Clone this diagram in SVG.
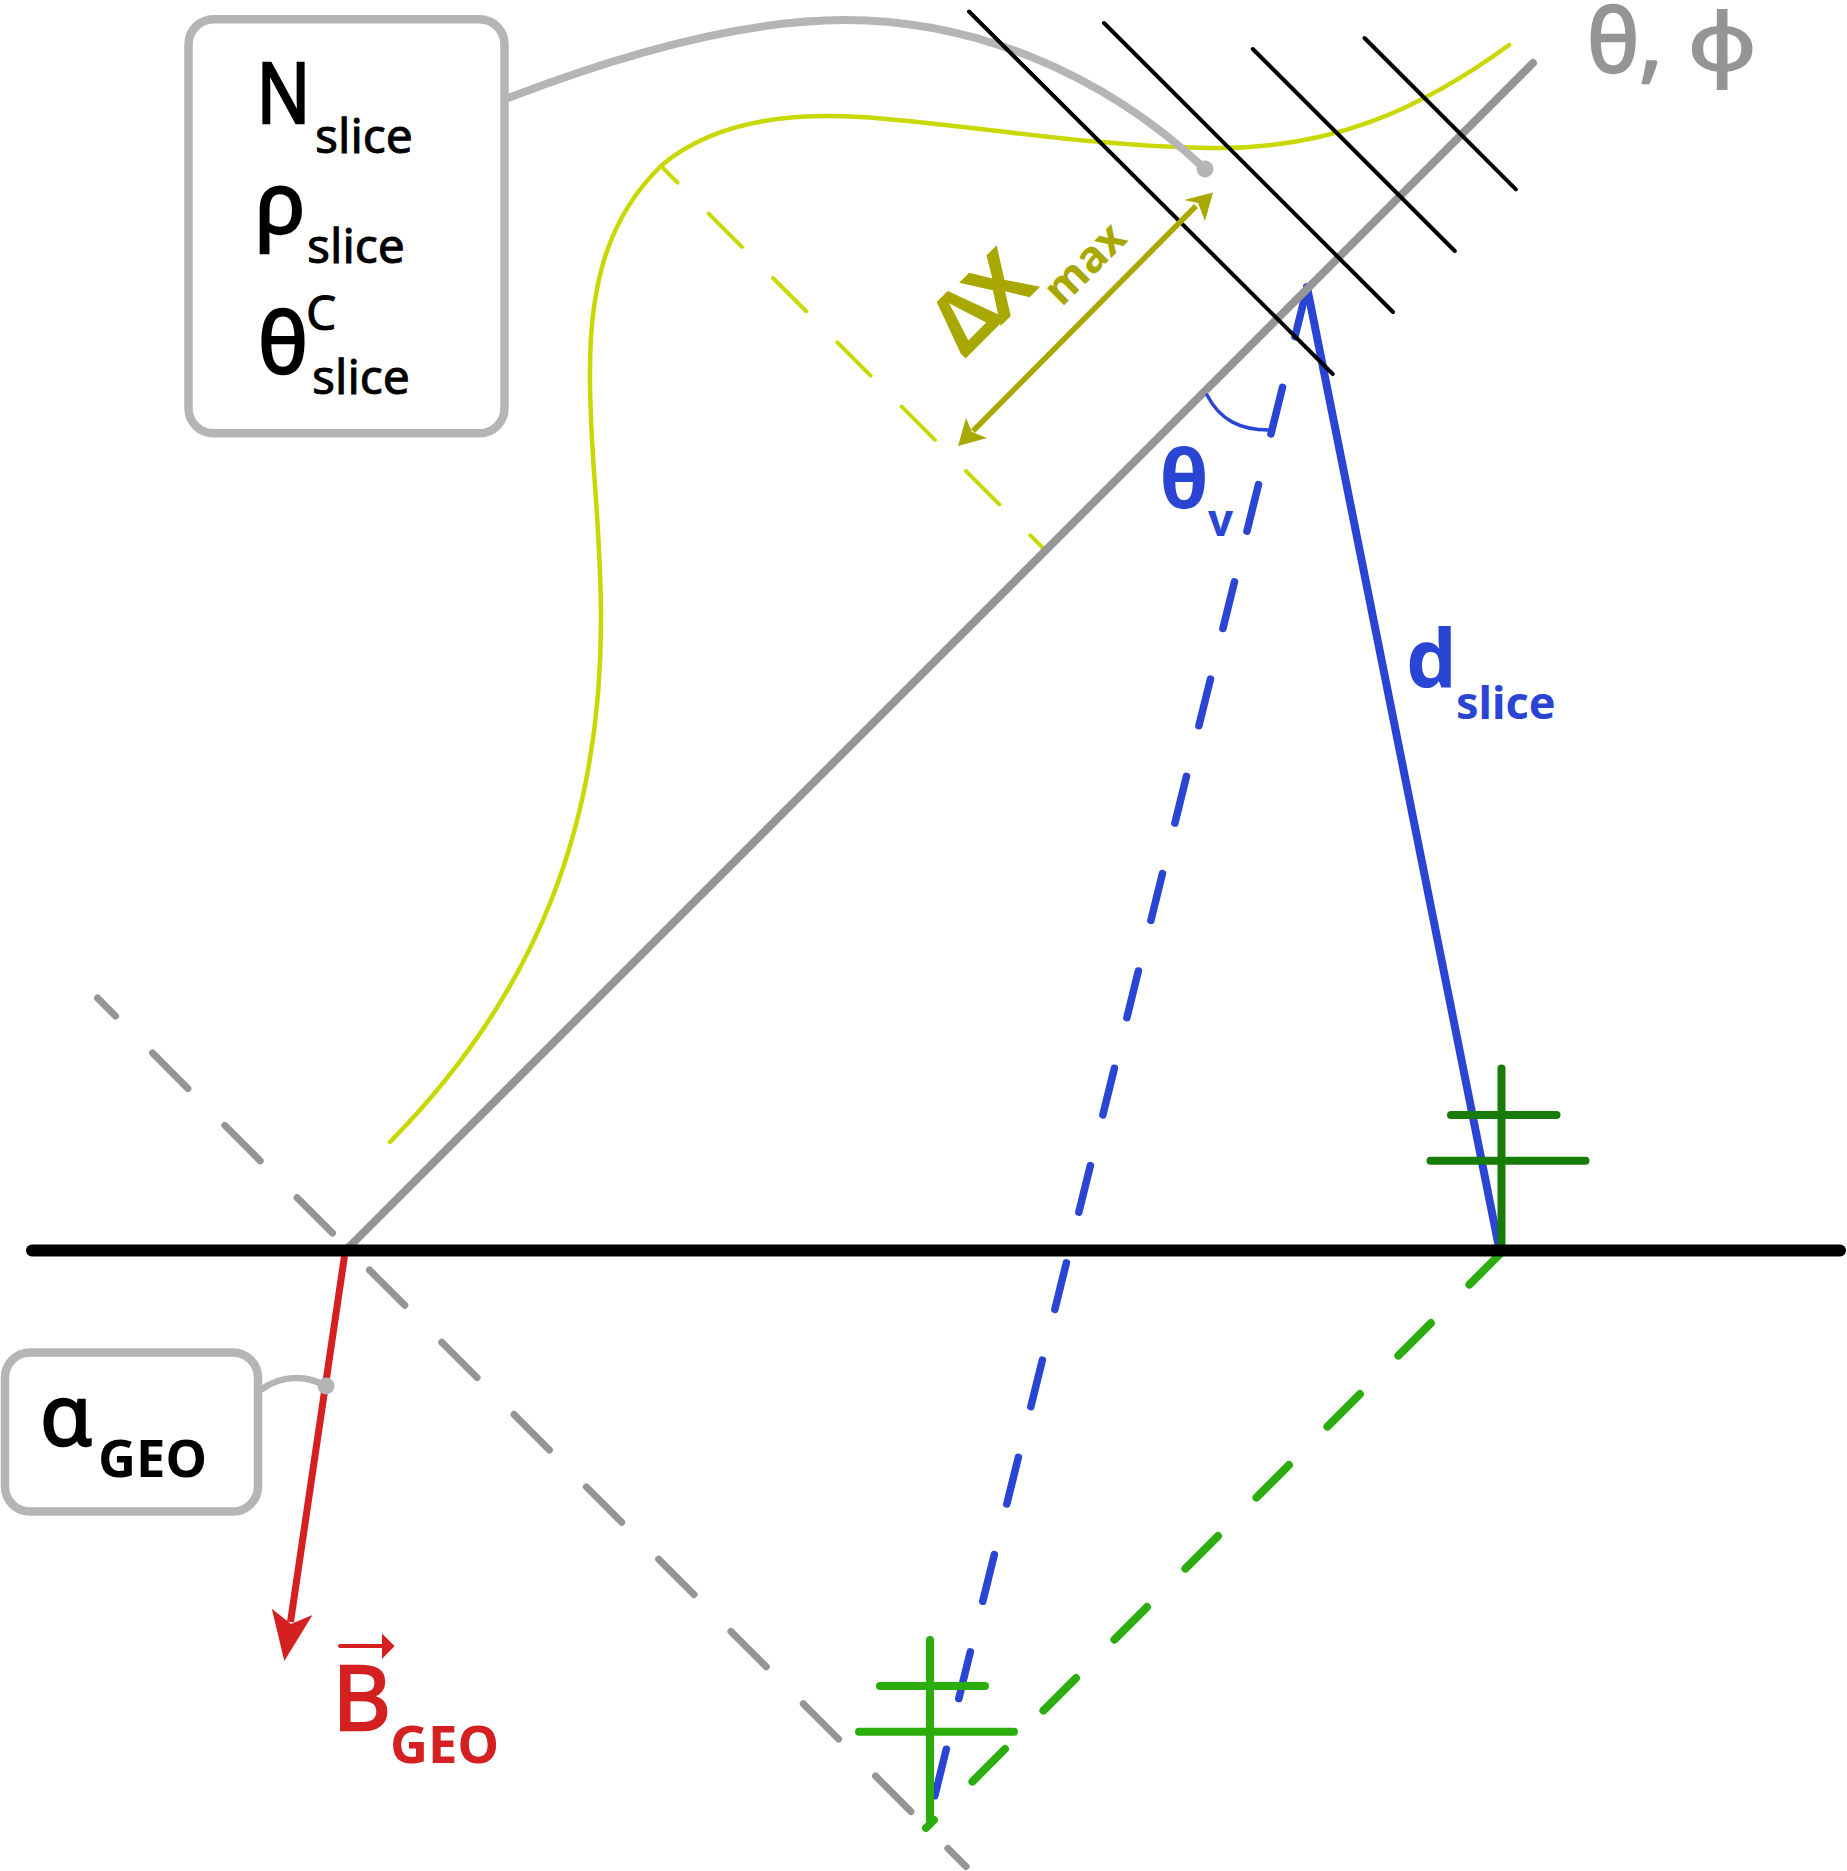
<svg xmlns="http://www.w3.org/2000/svg" width="1847" height="1871" viewBox="0 0 1847 1871">
<style>
text{font-family:"Noto Sans","Open Sans",sans-serif}
.m{font-size:84px;stroke:#000;stroke-width:2.4}
.s{font-size:48px;stroke:#000;stroke-width:.9}
.g{font-size:52.5px;font-weight:700}
.b{font-weight:700}
.box{fill:#fff;stroke:#b5b5b5;stroke-width:8.5}
.l{fill:none;stroke-linecap:round}
</style>
<rect width="1847" height="1871" fill="#fff"/>
<g id="connectors">
<path class="l" d="M97.5 998L966 1866.5" stroke="#959595" stroke-width="7" stroke-dasharray="50 52.25" stroke-dashoffset="24.4"/>
<path class="l" d="M662 167L1044 549" stroke="#c8d800" stroke-width="4" stroke-dasharray="47 44" stroke-dashoffset="25"/>
<path class="l" d="M390 1142C540 990 601 820 601 620C601 520 589 450 590 370C590 280 610 215 662 165C710 125 780 112 860 117C950 122 1080 146 1209 148C1330 150 1420 110 1509 45" stroke="#c8d800" stroke-width="4.5"/>
<path class="l" d="M1306.5 290L934.5 1797" stroke="#2a44d4" stroke-width="7.5" stroke-dasharray="48 52.2"/>
<path class="l" d="M1307 287L1499.5 1250" stroke="#2a44d4" stroke-width="8"/>
<path class="l" d="M346 1250L1533 63" stroke="#959595" stroke-width="8"/>
<path class="l" d="M1207 395C1220 420 1240 430 1269 430" stroke="#2a44d4" stroke-width="3.5"/>
<path class="l" d="M1500.5 1253.5L926 1828" stroke="#2aad0d" stroke-width="8" stroke-dasharray="46 54.4" stroke-dashoffset="2"/>
<path class="l" d="M508 98C620 55 740 20 845 20C970 20 1100 70 1205 169" stroke="#b5b5b5" stroke-width="8"/>
<circle cx="1205" cy="169" r="8.5" fill="#b5b5b5"/>
<g stroke="#000" stroke-width="4" stroke-linecap="round">
<path d="M969 11.5L1332.7 374"/>
<path d="M1104 23L1393 312"/>
<path d="M1252.8 49L1454.8 251"/>
<path d="M1364.5 38L1515.9 189.4"/>
</g>
<path d="M1196 206L973 431" stroke="#a8a800" stroke-width="5.5" fill="none"/>
<path d="M1213 192.5L1205 221L1198 203L1184 200Z" fill="#a8a800"/>
<path d="M958 446L966 418L972 432L987 438Z" fill="#a8a800"/>
<path d="M344.5 1256L290.5 1622" stroke="#d42020" stroke-width="7" fill="none"/>
<path d="M284.3 1661L271.8 1608.7L291 1624L312.5 1615Z" fill="#d42020"/>
<path class="l" d="M340 1646H383" stroke="#d42020" stroke-width="4"/>
<path d="M394.6 1646L382 1633.6V1659Z" fill="#d42020"/>
<path class="l" d="M930 1640V1820" stroke="#2aad0d" stroke-width="8"/>
<path class="l" d="M880 1686H985M859 1731.7H1014" stroke="#2aad0d" stroke-width="8"/>
<path class="l" d="M1501.5 1068.5V1250" stroke="#187a07" stroke-width="8"/>
<path class="l" d="M1451 1115H1556.5M1430.5 1160.7H1585.5" stroke="#187a07" stroke-width="8"/>
<path class="l" d="M32 1250.5H1840" stroke="#000" stroke-width="12"/>
<path class="l" d="M262 1389C280 1376 305 1374 325.7 1386" stroke="#b5b5b5" stroke-width="6.5"/>
<circle cx="326" cy="1386" r="8.5" fill="#b5b5b5"/>
</g>
<g id="slice-box">
<rect class="box" x="188.5" y="19.3" width="316" height="414" rx="25"/>
<text class="m" x="256.5" y="123" textLength="54" lengthAdjust="spacingAndGlyphs">N</text>
<text class="s" x="315" y="153">slice</text>
<text class="m" x="255" y="233">ρ</text>
<text class="s" x="307" y="263">slice</text>
<text class="m" x="258" y="373">θ</text>
<text class="s" x="306" y="330">C</text>
<text class="s" x="312" y="394">slice</text>
</g>
<g id="alpha-box">
<rect class="box" x="5" y="1352.5" width="253" height="159" rx="25"/>
<text class="m" x="40" y="1445">α</text>
<text class="g" x="98" y="1476.5">GEO</text>
</g>
<g id="label-bgeo">
<text x="332.5" y="1730" font-size="90" fill="#d42020" stroke="#d42020" stroke-width="2.4">B</text>
<text class="g" x="390" y="1762.5" fill="#d42020">GEO</text>
</g>
<g id="label-angles" fill="#959595" stroke="#959595" stroke-width="2.4">
<text x="1587" y="72" font-size="88">θ,</text>
<text transform="translate(1688 70) scale(1.07 .9)" font-size="88">φ</text>
</g>
<g id="label-thetav">
<text class="b" x="1159.5" y="508" font-size="80" fill="#2a44d4">θ</text>
<text class="b" x="1208" y="536" font-size="44" fill="#2a44d4">v</text>
</g>
<g id="label-dslice">
<text class="b" x="1406" y="688" font-size="80" fill="#2a44d4">d</text>
<text class="b" x="1456" y="718.5" font-size="45" fill="#2a44d4">slice</text>
</g>
<g id="label-dxmax" transform="translate(965 359) rotate(-45)" fill="#a8a800">
<text class="b" x="0" y="0" font-size="84">Δ<tspan dx="-8" dy="2">X</tspan></text>
<text class="b" x="105" y="32" font-size="44">max</text>
</g>
</svg>
